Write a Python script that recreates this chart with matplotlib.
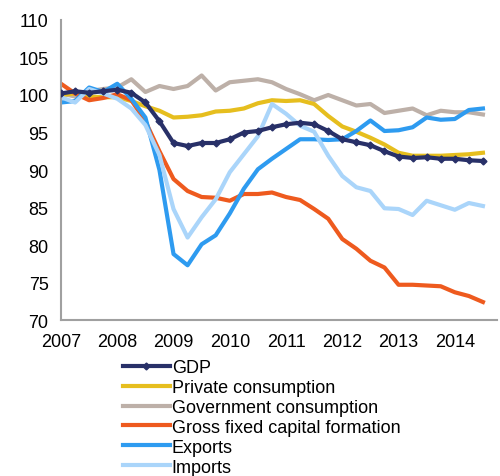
import matplotlib
matplotlib.use("Agg")
import matplotlib.pyplot as plt
import numpy as np

plt.rcParams["font.family"] = ["Liberation Sans", "DejaVu Sans"]

# quarterly index, 2007Q1 .. 2014Q3
quarters = 2007 + np.arange(31) / 4.0

gdp = [100.2, 100.5, 100.3, 100.5, 100.7, 100.3, 99.0, 96.5, 93.6, 93.2, 93.6, 93.6,
       94.1, 95.0, 95.2, 95.7, 96.1, 96.3, 96.1, 95.2, 94.1, 93.7, 93.3, 92.5,
       91.8, 91.6, 91.7, 91.5, 91.5, 91.3, 91.2]
private_cons = [100.0, 100.2, 99.8, 99.7, 99.7, 99.2, 98.5, 97.9, 97.0, 97.1, 97.3, 97.8,
                97.9, 98.2, 98.9, 99.3, 99.2, 99.3, 98.8, 97.2, 95.8, 95.1, 94.3, 93.4,
                92.3, 91.9, 91.9, 91.9, 92.0, 92.1, 92.3]
gov_cons = [100.2, 99.8, 100.5, 100.8, 101.0, 102.1, 100.4, 101.2, 100.8, 101.2, 102.6, 100.6,
            101.7, 101.9, 102.1, 101.7, 100.8, 100.1, 99.3, 100.0, 99.3, 98.6, 98.8, 97.6,
            97.9, 98.2, 97.3, 97.9, 97.7, 97.7, 97.4]
gfcf = [101.5, 100.2, 99.3, 99.6, 100.1, 99.3, 96.5, 92.5, 88.8, 87.2, 86.4, 86.3,
        85.9, 86.8, 86.8, 87.0, 86.4, 86.0, 84.8, 83.5, 80.8, 79.5, 77.9, 77.0,
        74.7, 74.7, 74.6, 74.5, 73.7, 73.2, 72.4]
exports = [99.0, 99.2, 101.0, 100.4, 101.5, 99.5, 97.0, 90.0, 78.8, 77.3, 80.1, 81.3,
           84.2, 87.5, 90.1, 91.5, 92.8, 94.1, 94.1, 94.0, 94.1, 95.2, 96.6, 95.2,
           95.3, 95.7, 97.0, 96.7, 96.8, 98.0, 98.2]
imports = [99.7, 99.0, 100.8, 100.2, 99.5, 98.2, 96.0, 92.0, 84.8, 81.0, 83.7, 86.1,
           89.7, 92.1, 94.5, 98.8, 97.5, 95.9, 95.1, 91.9, 89.2, 87.7, 87.2, 84.9,
           84.8, 84.0, 85.9, 85.3, 84.7, 85.6, 85.2]

years = list(range(2007, 2015))

fig = plt.figure(figsize=(5.0, 4.77), dpi=100)
ax = fig.add_axes([0.122, 0.327, 0.872, 0.629])

lw = 3.0
ax.plot(quarters, private_cons, color="#E6BE1E", lw=lw, label="Private consumption", zorder=2)
ax.plot(quarters, gov_cons, color="#BDB0A8", lw=lw, label="Government consumption", zorder=1)
ax.plot(quarters, gfcf, color="#EE5A1E", lw=lw, label="Gross fixed capital formation", zorder=2)
ax.plot(quarters, exports, color="#2E9BF0", lw=lw, label="Exports", zorder=2)
ax.plot(quarters, imports, color="#AAD5FA", lw=lw, label="Imports", zorder=2)
ax.plot(quarters, gdp, color="#283068", lw=lw, marker="D", markersize=3.5,
        label="GDP", zorder=3)

ax.set_xlim(2007, 2014.75)
ax.set_ylim(70, 110)
ax.set_xticks(years)
ax.set_yticks(range(70, 111, 5))
ax.tick_params(length=0, labelsize=13)
ax.tick_params(axis="x", pad=9)
ax.tick_params(axis="y", pad=9)
for s in ["top", "right"]:
    ax.spines[s].set_visible(False)
for s in ["left", "bottom"]:
    ax.spines[s].set_color("#A0A0A0")
    ax.spines[s].set_linewidth(1.5)

handles, labels = ax.get_legend_handles_labels()
order = [5, 0, 1, 2, 3, 4]
fig.legend([handles[i] for i in order], [labels[i] for i in order],
           loc="upper left", bbox_to_anchor=(0.246, 0.245), frameon=False,
           fontsize=13, handlelength=2.6, handletextpad=0.1, labelspacing=0.16,
           borderaxespad=0, borderpad=0)

fig.savefig("out.png", dpi=100)
